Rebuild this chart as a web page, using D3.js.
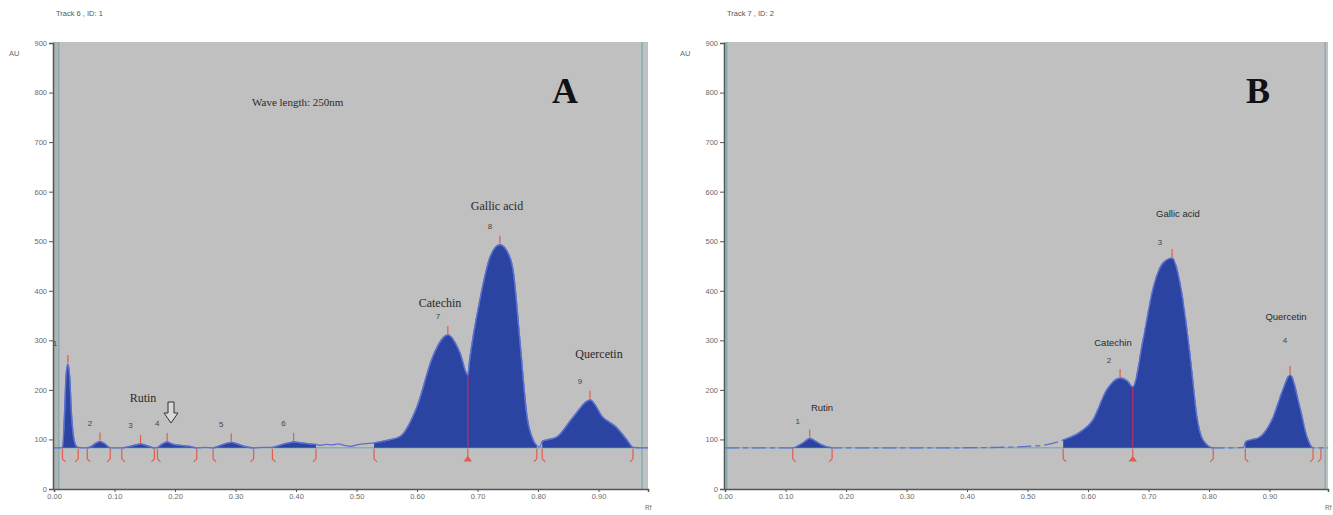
<!DOCTYPE html>
<html>
<head>
<meta charset="utf-8">
<script src="https://cdn.jsdelivr.net/npm/d3@7"></script>
<style>
  body { margin: 0; background: #fff; }
  svg { display: block; }
</style>
</head>
<body>
<script>
// ---- data ----
var yTicks = [0, 100, 200, 300, 400, 500, 600, 700, 800, 900];
var xTicks = [0, 0.1, 0.2, 0.3, 0.4, 0.5, 0.6, 0.7, 0.8, 0.9];
var baseAU = 83;

// track A (Rf, AU)
var rfA = [0, 0.010, 0.014, 0.017, 0.020, 0.023, 0.026, 0.029, 0.033, 0.037,
  0.040, 0.048, 0.055, 0.062, 0.070, 0.076, 0.083, 0.090, 0.093, 0.103,
  0.112, 0.125, 0.135, 0.143, 0.152, 0.160, 0.166, 0.171, 0.178, 0.187,
  0.195, 0.210, 0.225, 0.236, 0.250, 0.263, 0.275, 0.285, 0.293, 0.303,
  0.315, 0.330, 0.345, 0.361, 0.375, 0.388, 0.396, 0.410, 0.422, 0.433,
  0.440, 0.450, 0.460, 0.470, 0.480, 0.490, 0.500, 0.510, 0.520, 0.529,
  0.550, 0.572, 0.600, 0.626, 0.651, 0.671, 0.684, 0.687, 0.704, 0.721,
  0.737, 0.754, 0.759, 0.770, 0.782, 0.792, 0.798, 0.803, 0.807, 0.818,
  0.831, 0.858, 0.886, 0.907, 0.929, 0.947, 0.957, 0.972, 0.982];
var auA = [83, 83, 84, 140, 230, 252, 225, 150, 100, 86,
  84, 83, 83, 86, 93, 96, 92, 85, 83, 83,
  83, 86, 89, 91, 88, 85, 83, 84, 90, 95,
  91, 88, 86, 83, 84, 83, 88, 92, 94, 91,
  86, 83, 84, 84, 89, 93, 95, 93, 91, 90,
  88, 90, 89, 91, 88, 86, 89, 91, 92, 93,
  98, 106, 166, 267, 311, 275, 230, 260, 382, 469,
  493, 466, 440, 301, 145, 99, 88, 85, 96, 100,
  105, 145, 180, 145, 125, 99, 84, 83, 83];
var windowsA = [[0.014, 0.040], [0.055, 0.093], [0.112, 0.166], [0.171, 0.236],
  [0.263, 0.330], [0.361, 0.433], [0.529, 0.798], [0.807, 0.957]];
var marksA = [[0.014, "L"], [0.040, "R"], [0.055, "L"], [0.093, "R"], [0.112, "L"],
  [0.166, "R"], [0.171, "L"], [0.236, "R"], [0.263, "L"], [0.330, "R"], [0.361, "L"],
  [0.433, "R"], [0.529, "L"], [0.684, "M"], [0.798, "R"], [0.807, "L"], [0.957, "R"]];
var peakNumA = ["1", "2", "3", "4", "5", "6", "7", "8", "9"];
var peakRfA = [0.023, 0.076, 0.143, 0.187, 0.293, 0.396, 0.651, 0.737, 0.886];
var peakAuA = [252, 96, 91, 95, 94, 95, 311, 493, 180];
var valleyA = [0.684, 230];

// track B (Rf, AU)
var rfB = [0, 0.100, 0.112, 0.122, 0.132, 0.140, 0.150, 0.160, 0.170, 0.177,
  0.250, 0.350, 0.450, 0.500, 0.530, 0.550, 0.559, 0.587, 0.608, 0.631,
  0.653, 0.665, 0.674, 0.691, 0.707, 0.724, 0.739, 0.752, 0.769, 0.780,
  0.790, 0.807, 0.830, 0.857, 0.860, 0.884, 0.906, 0.922, 0.934, 0.950,
  0.962, 0.972, 0.985, 0.997];
var auB = [83, 83, 83, 88, 96, 102, 96, 89, 85, 83,
  83, 83, 84, 86, 89, 95, 99, 115, 139, 200,
  224, 218, 206, 301, 402, 456, 466, 416, 267, 146,
  99, 83, 83, 84, 95, 105, 145, 200, 230, 166,
  105, 83, 83, 83];
var windowsB = [[0.112, 0.177], [0.559, 0.807], [0.860, 0.972]];
var marksB = [[0.112, "L"], [0.177, "R"], [0.559, "L"], [0.674, "M"],
  [0.807, "R"], [0.860, "L"], [0.972, "R"], [0.985, "R"]];
var peakNumB = ["1", "2", "3", "4"];
var peakRfB = [0.140, 0.653, 0.739, 0.934];
var peakAuB = [102, 224, 466, 230];
var valleyB = [0.674, 206];

var compounds = ["Rutin", "Catechin", "Gallic acid", "Quercetin"];

// ---- drawing ----
var W = 1333, H = 515;
var svg = d3.select("body").append("svg").attr("width", W).attr("height", H);

var fillBlue = "#2b44a2",
    lineBlue = "#5b70cf",
    teal     = "#86aeb8",
    red      = "#e45a4c",
    tickGray = "#6a6a6a";

function drawPanel(p) {
  var pxPerRf = 605;
  var x = d3.scaleLinear().domain([0, (p.x1 - p.x0) / pxPerRf]).range([p.x0, p.x1]);
  var y = d3.scaleLinear().domain([0, 900]).range([489, 43]);
  var g = svg.append("g");
  var yb = y(baseAU);

  // plate background
  g.append("rect")
    .attr("x", p.x0 - 1).attr("y", 42)
    .attr("width", p.x1 - p.x0 + 1).attr("height", 489 - 42)
    .attr("fill", "#c0c0c0");
  g.append("rect")
    .attr("x", p.x0).attr("y", 42)
    .attr("width", x(p.leftEdge) - p.x0).attr("height", 489 - 42)
    .attr("fill", "#b2b4b4");

  // scan limits
  [p.leftEdge, p.rightEdge].forEach(function (r) {
    g.append("line")
      .attr("x1", x(r)).attr("x2", x(r)).attr("y1", 42).attr("y2", 489)
      .attr("stroke", teal).attr("stroke-width", 1.5);
  });

  // axes
  var yAxis = d3.axisLeft(y).tickValues(yTicks).tickSize(4).tickFormat(d3.format("d"));
  var xAxis = d3.axisBottom(x).tickValues(xTicks).tickSize(3).tickFormat(d3.format(".2f"));
  var ya = g.append("g").attr("transform", "translate(" + (p.x0 - 1) + ",0)").call(yAxis);
  var xa = g.append("g").attr("transform", "translate(0,489)").call(xAxis);
  [ya, xa].forEach(function (a) {
    a.select(".domain").attr("stroke", "#555").attr("stroke-width", 1.5);
    a.selectAll(".tick line").attr("stroke", "#555");
    a.selectAll("text").attr("fill", tickGray).attr("font-size", "7.5px")
      .attr("font-family", "Liberation Sans, Arial, sans-serif");
  });
  ya.selectAll("text").attr("x", -6);
  xa.selectAll("text").attr("y", 5);

  g.append("text").attr("x", p.x0 - 45).attr("y", 56).text("AU")
    .attr("font-size", "7.5px").attr("fill", tickGray).attr("font-family", "Liberation Sans, sans-serif");
  g.append("text").attr("x", p.x1 - 3).attr("y", 510).text("Rf")
    .attr("font-size", "6.5px").attr("fill", tickGray).attr("font-family", "Liberation Sans, sans-serif");
  g.append("text").attr("x", p.x0 + 2).attr("y", 16).text(p.track)
    .attr("font-size", "7.5px").attr("fill", "#555").attr("font-family", "Liberation Sans, sans-serif");

  // baseline
  g.append("line")
    .attr("x1", p.x0).attr("x2", p.x1).attr("y1", yb).attr("y2", yb)
    .attr("stroke", teal).attr("stroke-width", 1.5);

  var pts = p.rf.map(function (r, i) { return [r, p.au[i]]; });

  // integrated peaks (filled)
  var clipId = "clip" + p.id;
  var clip = svg.append("defs").append("clipPath").attr("id", clipId);
  p.windows.forEach(function (w) {
    clip.append("rect").attr("x", x(w[0])).attr("y", 0)
      .attr("width", x(w[1]) - x(w[0])).attr("height", H);
  });
  var area = d3.area().curve(d3.curveMonotoneX)
    .x(function (d) { return x(d[0]); })
    .y0(yb)
    .y1(function (d) { return y(Math.max(d[1], baseAU)); });
  g.append("path").datum(pts).attr("d", area)
    .attr("fill", fillBlue).attr("clip-path", "url(#" + clipId + ")");

  // trace
  var line = d3.line().curve(d3.curveMonotoneX)
    .x(function (d) { return x(d[0]); })
    .y(function (d) { return y(d[1]); });
  g.append("path").datum(pts).attr("d", line)
    .attr("fill", "none").attr("stroke", lineBlue).attr("stroke-width", 1.3)
    .attr("stroke-dasharray", p.dash || null);
  g.append("path").datum(pts).attr("d", line)
    .attr("fill", "none").attr("stroke", lineBlue).attr("stroke-width", 1.3)
    .attr("clip-path", "url(#" + clipId + ")");

  // valley drop line
  g.append("line")
    .attr("x1", x(p.valley[0])).attr("x2", x(p.valley[0]))
    .attr("y1", yb).attr("y2", y(p.valley[1]))
    .attr("stroke", "#a8306e").attr("stroke-width", 1.5);

  // integration marks
  p.marks.forEach(function (m) {
    var xm = x(m[0]);
    if (m[1] === "M") {
      g.append("path")
        .attr("d", "M" + xm + "," + (yb + 1) + "V" + (yb + 10) + "M" + (xm - 3) + "," + (yb + 13) + "h6l-3,-4z")
        .attr("fill", red).attr("stroke", red).attr("stroke-width", 1.2);
    } else {
      var hook = m[1] === "L" ? 3 : -3;
      g.append("path")
        .attr("d", "M" + xm + "," + (yb + 1) + "V" + (yb + 11) + "l" + hook + ",3")
        .attr("fill", "none").attr("stroke", red).attr("stroke-width", 1.2);
    }
  });

  // peak max ticks + numbers
  p.peakRf.forEach(function (r, i) {
    var xp = x(r), yp = y(p.peakAu[i]);
    g.append("line").attr("x1", xp).attr("x2", xp).attr("y1", yp - 1).attr("y2", yp - 9)
      .attr("stroke", red).attr("stroke-width", 1.2);
    var off = p.numOffsets[i] || [-10, -18];
    g.append("text").attr("x", xp + off[0]).attr("y", yp + off[1])
      .attr("text-anchor", "middle").attr("dominant-baseline", "central")
      .attr("font-size", "8px").attr("fill", "#444")
      .attr("font-family", "Liberation Sans, sans-serif")
      .text(p.peakNum[i]);
  });

  // compound names
  p.names.forEach(function (n) {
    g.append("text").attr("x", n[1]).attr("y", n[2])
      .attr("text-anchor", "middle").attr("dominant-baseline", "central")
      .attr("font-size", p.nameSize).attr("fill", "#2a2a2a")
      .attr("font-family", p.nameFont)
      .text(compounds[n[0]]);
  });

  // panel letter
  g.append("text").attr("x", p.letter[1]).attr("y", p.letter[2])
    .attr("text-anchor", "middle")
    .attr("font-family", "Liberation Serif, Times New Roman, serif")
    .attr("font-weight", "bold").attr("font-size", "36px").attr("fill", "#111")
    .text(p.letter[0]);

  return g;
}

var gA = drawPanel({
  id: "A", x0: 54, x1: 648, leftEdge: 0.008, rightEdge: 0.972,
  track: "Track 6 , ID: 1",
  rf: rfA, au: auA, windows: windowsA, marks: marksA,
  peakNum: peakNumA, peakRf: peakRfA, peakAu: peakAuA, valley: valleyA,
  numOffsets: [[-13, -21]],
  names: [[0, 143, 398], [1, 440, 303], [2, 497, 206], [3, 599, 354]],
  nameSize: "12px", nameFont: "Liberation Serif, Times New Roman, serif",
  letter: ["A", 565, 103]
});

var gB = drawPanel({
  id: "B", x0: 725, x1: 1328, leftEdge: 0.003, rightEdge: 0.992,
  track: "Track 7 , ID: 2", dash: "14,4,5,4",
  rf: rfB, au: auB, windows: windowsB, marks: marksB,
  peakNum: peakNumB, peakRf: peakRfB, peakAu: peakAuB, valley: valleyB,
  numOffsets: [[-12, -17], [-11, -17], [-12, -16], [-5, -35]],
  names: [[0, 822, 407], [1, 1113, 342], [2, 1178, 213], [3, 1286, 316]],
  nameSize: "9.5px", nameFont: "Liberation Sans Narrow, Liberation Sans, sans-serif",
  letter: ["B", 1258, 103]
});

// wavelength note and Rutin arrow on track A
gA.append("text").attr("x", 252).attr("y", 102).attr("dominant-baseline", "central")
  .attr("font-family", "Liberation Serif, Times New Roman, serif")
  .attr("font-size", "11px").attr("fill", "#2a2a2a")
  .text("Wave length: 250nm");
gA.append("path")
  .attr("d", "M168,402h6v11h4l-7,10l-7,-10h4z")
  .attr("fill", "#d8d8d8").attr("stroke", "#333").attr("stroke-width", 1);
</script>
</body>
</html>
